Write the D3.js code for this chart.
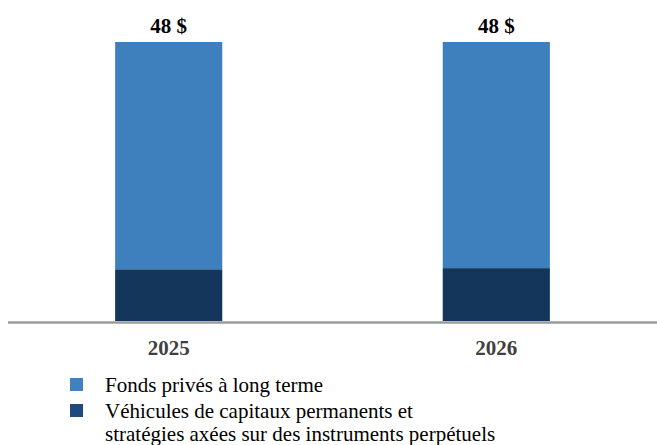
<!DOCTYPE html>
<html>
<head>
<meta charset="utf-8">
<script src="https://cdn.jsdelivr.net/npm/d3@7/dist/d3.min.js"></script>
<style>
  html, body { margin: 0; padding: 0; background: #fff; }
  svg { display: block; }
</style>
</head>
<body>
<svg id="chart" width="657" height="445"></svg>
<script>
// Catégories et valeurs (milliards $)
const categories = ["2025", "2026"];
const longTermFunds = [39.1, 38.9];
const permanentCapital = [8.9, 9.1];
const totalLabels = ["48 $", "48 $"];
const seriesNames = [
  "Fonds privés à long terme",
  "Véhicules de capitaux permanents et|stratégies axées sur des instruments perpétuels"
];

const colors = {
  light: "#3e7fbd",
  dark: "#13365a",
  legendLight: "#3f82c2",
  legendDark: "#214a7c"
};

const svg = d3.select("#chart");
const serif = "'Liberation Serif', 'Times New Roman', serif";

const x = d3.scaleBand()
  .domain(categories)
  .range([8, 657])
  .paddingInner(0.673)
  .paddingOuter(0.327);

const y = d3.scaleLinear().domain([0, 48]).range([321, 42]);

const rows = categories.map((c, i) => ({
  cat: c,
  perm: permanentCapital[i],
  lt: longTermFunds[i],
  label: totalLabels[i]
}));

const stack = d3.stack().keys(["perm", "lt"])(rows);
const fills = { perm: colors.dark, lt: colors.light };

svg.append("g").selectAll("g")
  .data(stack)
  .join("g")
  .attr("fill", d => fills[d.key])
  .selectAll("rect")
  .data(d => d)
  .join("rect")
  .attr("x", d => x(d.data.cat))
  .attr("width", x.bandwidth())
  .attr("y", d => y(d[1]))
  .attr("height", d => y(d[0]) - y(d[1]));

// Ligne de base
svg.append("line")
  .attr("x1", 8).attr("x2", 657)
  .attr("y1", y(0) + 1.5).attr("y2", y(0) + 1.5)
  .attr("stroke", "#9a9a9a")
  .attr("stroke-width", 2.5);

// Étiquettes des totaux
svg.append("g").selectAll("text")
  .data(rows)
  .join("text")
  .attr("x", d => x(d.cat) + x.bandwidth() / 2)
  .attr("y", d => y(d.perm + d.lt) - 9)
  .attr("text-anchor", "middle")
  .attr("font-family", serif)
  .attr("font-weight", "bold")
  .attr("font-size", 21)
  .attr("fill", "#000")
  .text(d => d.label);

// Axe des catégories
const xAxis = svg.append("g")
  .attr("transform", `translate(0,${y(0)})`)
  .call(d3.axisBottom(x).tickSize(0).tickPadding(19));
xAxis.select(".domain").remove();
xAxis.selectAll("text")
  .attr("font-family", serif)
  .attr("font-weight", "bold")
  .attr("font-size", 21)
  .attr("fill", "#404040");

// Légende
const legend = svg.append("g").attr("transform", "translate(70,0)");
const legendItems = [
  { name: seriesNames[0], color: colors.legendLight, y: 378 },
  { name: seriesNames[1], color: colors.legendDark, y: 404 }
];
legendItems.forEach(item => {
  legend.append("rect")
    .attr("x", 0).attr("y", item.y)
    .attr("width", 13).attr("height", 13)
    .attr("fill", item.color);
  const t = legend.append("text")
    .attr("y", item.y + 14)
    .attr("font-family", serif)
    .attr("font-size", 21)
    .attr("fill", "#000");
  item.name.split("|").forEach((line, i) => {
    t.append("tspan")
      .attr("x", 35)
      .attr("dy", i === 0 ? 0 : 23)
      .text(line);
  });
});
</script>
</body>
</html>
